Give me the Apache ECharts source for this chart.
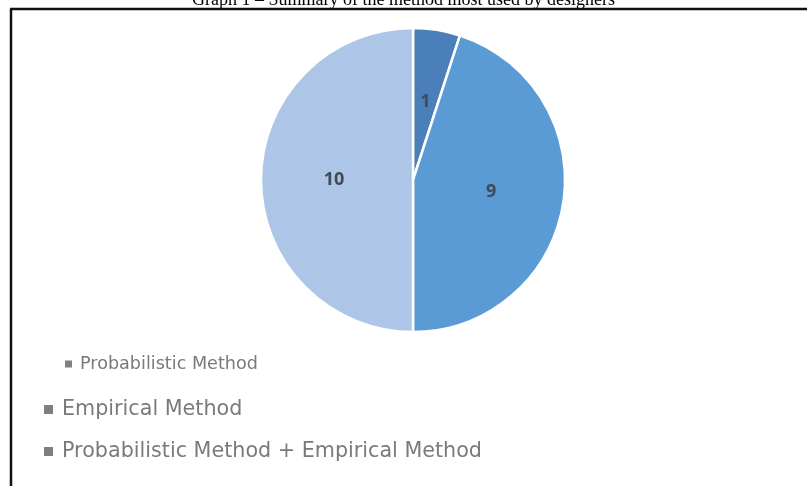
<!DOCTYPE html>
<html>
<head>
<meta charset="utf-8">
<script src="https://cdn.jsdelivr.net/npm/echarts@6/dist/echarts.min.js"></script>
<style>
html,body{margin:0;padding:0;background:#fff;}
#chart{width:807px;height:486px;}
</style>
</head>
<body>
<div id="chart"></div>
<script>
const titleText = 'Graph 1 – Summary of the method most used by designers';
const categories = ['Probabilistic Method', 'Empirical Method', 'Probabilistic Method + Empirical Method'];
const values = [1, 9, 10];
const colors = ['#4b7fb9', '#5b9bd5', '#adc6e7'];

const chart = echarts.init(document.getElementById('chart'), null, {renderer: 'canvas'});
const option = {
  backgroundColor: '#fff',
  animation: false,
  graphic: [
    {type: 'text', left: 'center', top: -9, style: {text: titleText, font: '18px "Liberation Serif", "Times New Roman", serif', fill: '#000'}},
    {type: 'line', shape: {x1: 10, y1: 9, x2: 807, y2: 9}, style: {stroke: '#111', lineWidth: 2.5}},
    {type: 'line', shape: {x1: 11, y1: 9, x2: 11, y2: 486}, style: {stroke: '#111', lineWidth: 2.5}}
  ],
  legend: [
    {
      data: [categories[0]],
      orient: 'vertical', left: 63, top: 355, padding: 0,
      icon: 'rect', itemWidth: 9, itemHeight: 9, itemGap: 10,
      textStyle: {fontFamily: '"DejaVu Sans", sans-serif', fontSize: 17.6, color: '#7a7a7a', padding: [0, 0, 0, 2]},
      selectedMode: false
    },
    {
      data: [categories[1], categories[2]],
      orient: 'vertical', left: 42, top: 399, padding: 0,
      icon: 'rect', itemWidth: 11, itemHeight: 11, itemGap: 21,
      textStyle: {fontFamily: '"DejaVu Sans", sans-serif', fontSize: 20.7, color: '#7a7a7a', padding: [0, 0, 0, 3]},
      selectedMode: false
    }
  ],
  series: [{
    type: 'pie',
    center: [413, 180],
    radius: [0, 152],
    startAngle: 90,
    clockwise: true,
    legendHoverLink: false,
    itemStyle: {borderColor: '#fff', borderWidth: 2.5},
    label: {
      show: true, position: 'inside', formatter: '{c}',
      fontFamily: 'Open Sans, Arial, sans-serif', fontSize: 18, fontWeight: 'bold', color: '#404a58'
    },
    labelLine: {show: false},
    data: categories.map((c, i) => ({name: c, value: values[i], itemStyle: {color: colors[i]}}))
  }]
};
option.legend.forEach(l => { l.itemStyle = {color: '#7f7f7f'}; });
chart.setOption(option);
</script>
</body>
</html>
